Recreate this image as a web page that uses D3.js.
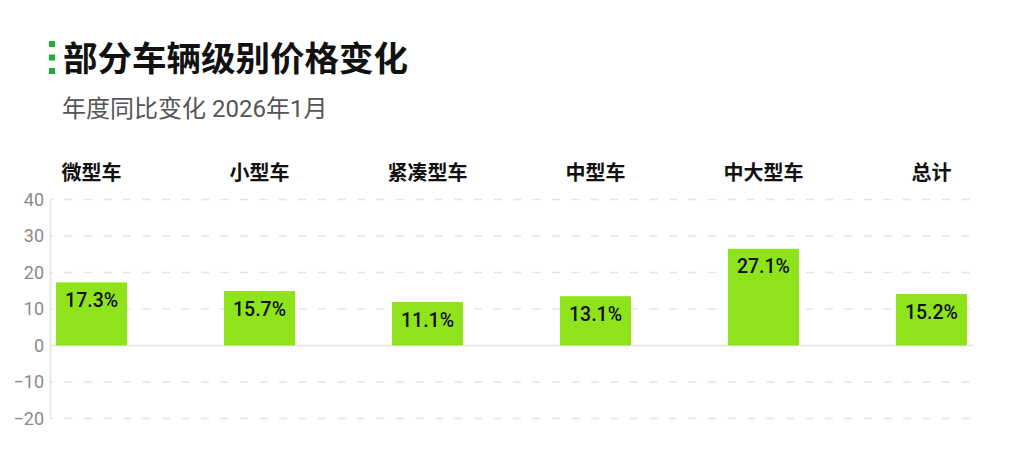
<!DOCTYPE html>
<html>
<head>
<meta charset="utf-8">
<script src="https://cdn.jsdelivr.net/npm/d3@7"></script>
<style>
  body { margin: 0; background: #fff; }
  svg { display: block; }
</style>
</head>
<body>
<div class="chart"></div>
<script>
let svgWidth = 1024;
let svgHeight = 472;

// data
let categories = ["微型车", "小型车", "紧凑型车", "中型车", "中大型车", "总计"];
// bar heights as drawn in the picture
let barValues = [17.3, 14.9, 11.9, 13.5, 26.5, 14.1];
// labels printed on the bars
let valueLabels = ["17.3%", "15.7%", "11.1%", "13.1%", "27.1%", "15.2%"];
let yTicks = [-20, -10, 0, 10, 20, 30, 40];

let titleText = "部分车辆级别价格变化";
let subtitleText = "年度同比变化 2026年1月";

let margin = { top: 199.5, right: 51, bottom: 53.5, left: 50 };
let width = svgWidth - margin.left - margin.right;
let height = svgHeight - margin.top - margin.bottom;

let svg = d3.select(".chart")
    .append("svg")
    .attr("width", svgWidth)
    .attr("height", svgHeight);

// title + little green marker
let markerY = [41, 54.5, 68];
svg.selectAll("rect.marker")
    .data(markerY)
    .enter()
    .append("rect")
    .attr("class", "marker")
    .attr("x", 49)
    .attr("y", d => d)
    .attr("width", 6)
    .attr("height", 6)
    .attr("fill", "#1fae3a");

svg.append("text")
    .attr("x", 63)
    .attr("y", 70.5)
    .attr("font-family", "'Noto Sans CJK SC'")
    .attr("font-weight", 700)
    .attr("font-size", 34.5)
    .attr("fill", "#111")
    .text(titleText);

svg.append("text")
    .attr("x", 62)
    .attr("y", 116.5)
    .attr("font-family", "Roboto, 'Noto Sans CJK SC'")
    .attr("font-size", 24)
    .attr("fill", "#555")
    .text(subtitleText);

let chartGroup = svg.append("g")
    .attr("transform", `translate(${margin.left}, ${margin.top})`);

let x = d3.scaleBand()
    .domain(categories)
    .range([0, width])
    .paddingInner(0.577)
    .paddingOuter(0.036);

let y = d3.scaleLinear()
    .domain([-20, 40])
    .range([height, 0]);

// dashed gridlines
chartGroup.selectAll("line.grid")
    .data(yTicks.filter(d => d !== 0))
    .enter()
    .append("line")
    .attr("x1", 0)
    .attr("x2", width)
    .attr("y1", d => y(d))
    .attr("y2", d => y(d))
    .attr("stroke", "#e3e3e3")
    .attr("stroke-width", 1.5)
    .attr("stroke-dasharray", "8,11.5")
    .attr("stroke-dashoffset", 5);

// y axis
let leftAxis = d3.axisLeft(y)
    .tickValues(yTicks)
    .tickSize(0)
    .tickPadding(6);

let yAxis = chartGroup.append("g").call(leftAxis);
yAxis.select(".domain").attr("stroke", "#e3e3e3").attr("stroke-width", 1.5);
yAxis.selectAll("text")
    .attr("font-family", "Roboto")
    .attr("font-size", 18)
    .attr("fill", "#8a8a8a");

// zero line
chartGroup.append("line")
    .attr("x1", 0)
    .attr("x2", width)
    .attr("y1", y(0))
    .attr("y2", y(0))
    .attr("stroke", "#e3e3e3")
    .attr("stroke-width", 1.5);

// bars
chartGroup.selectAll("rect.bar")
    .data(barValues)
    .enter()
    .append("rect")
    .attr("class", "bar")
    .attr("x", (d, i) => x(categories[i]))
    .attr("y", d => y(Math.max(0, d)))
    .attr("width", x.bandwidth())
    .attr("height", d => Math.abs(y(d) - y(0)))
    .attr("fill", "#8fe31b");

// value labels inside the bars
chartGroup.selectAll("text.val")
    .data(barValues)
    .enter()
    .append("text")
    .attr("class", "val")
    .attr("x", (d, i) => x(categories[i]) + x.bandwidth() / 2)
    .attr("y", d => y(d) + 24.5)
    .attr("text-anchor", "middle")
    .attr("font-family", "Roboto")
    .attr("font-weight", 500)
    .attr("font-size", 19.5)
    .attr("fill", "#111")
    .text((d, i) => valueLabels[i]);

// category labels on top
chartGroup.selectAll("text.cat")
    .data(categories)
    .enter()
    .append("text")
    .attr("class", "cat")
    .attr("x", d => x(d) + x.bandwidth() / 2)
    .attr("y", -20)
    .attr("text-anchor", "middle")
    .attr("font-family", "'Noto Sans CJK SC'")
    .attr("font-weight", 700)
    .attr("font-size", 20)
    .attr("fill", "#111")
    .text(d => d);
</script>
</body>
</html>
